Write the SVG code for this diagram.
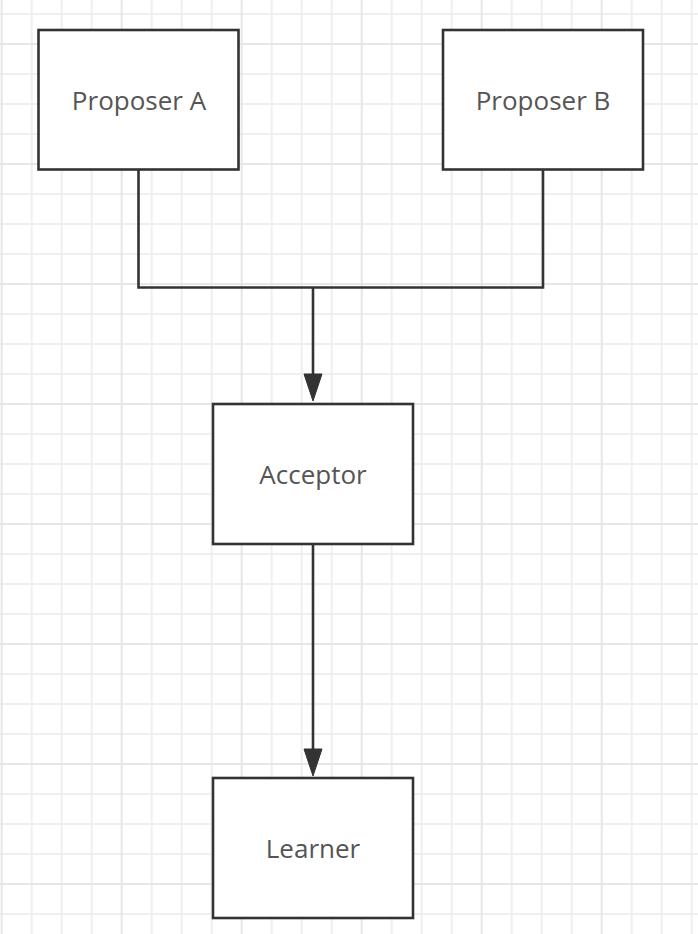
<svg xmlns="http://www.w3.org/2000/svg" width="698" height="934" viewBox="0 0 698 934">
  <defs>
    <pattern id="grid" patternUnits="userSpaceOnUse" x="-13.3" y="29" width="120" height="120">
      <path d="M45 0V120M75 0V120M105 0V120M0 45H120M0 75H120M0 105H120" stroke="#efefef" stroke-width="2" fill="none"/>
      <path d="M15 0V120M0 15H120" stroke="#e6e6e6" stroke-width="2" fill="none"/>
    </pattern>
    <style>
      .box { fill: #ffffff; stroke: #333333; stroke-width: 2.6; }
      .label { font-family: "Open Sans", "Noto Sans", sans-serif; font-size: 26px; fill: #555555; text-anchor: middle; }
      .edge { fill: none; stroke: #333333; stroke-width: 2.6; }
      .head { fill: #333333; stroke: #333333; stroke-width: 1; stroke-linejoin: miter; }
    </style>
  </defs>
  <rect width="698" height="934" fill="#ffffff"/>
  <rect width="698" height="934" fill="url(#grid)"/>

  <g id="connectors">
    <path class="edge" d="M138.5 170 V287.5 H543 V170"/>
    <path class="edge" d="M313 287.5 V378"/>
    <polygon class="head" points="304,374 322,374 313,401"/>
    <path class="edge" d="M313 544 V752"/>
    <polygon class="head" points="304,749 322,749 313,776"/>
  </g>

  <g id="proposer-a">
    <rect class="box" x="38.5" y="30" width="200" height="139.5"/>
    <text class="label" x="139" y="110">Proposer A</text>
  </g>
  <g id="proposer-b">
    <rect class="box" x="443" y="30" width="200" height="139.5"/>
    <text class="label" x="543" y="109.5">Proposer B</text>
  </g>
  <g id="acceptor">
    <rect class="box" x="213" y="404" width="200" height="140"/>
    <text class="label" x="313" y="483.5">Acceptor</text>
  </g>
  <g id="learner">
    <rect class="box" x="213" y="778" width="200" height="140"/>
    <text class="label" x="313" y="857.5">Learner</text>
  </g>
</svg>
